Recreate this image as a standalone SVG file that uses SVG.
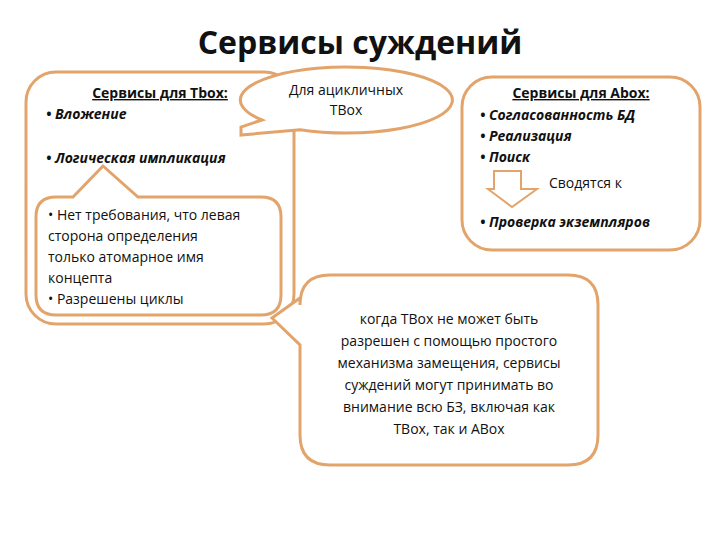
<svg xmlns="http://www.w3.org/2000/svg" width="720" height="540" viewBox="0 0 720 540">
<style>
.b{fill:#fff;stroke:#E2A46A;stroke-width:3}
text{font-family:"Open Sans","Liberation Sans",sans-serif;font-size:14px;fill:#111}
.h{text-decoration:underline;font-weight:bold}
.i{font-style:italic;font-weight:bold}
</style>
<rect width="720" height="540" fill="#fff"/>
<text x="360" y="54" text-anchor="middle" style="font-size:32px;font-weight:bold">Сервисы суждений</text>
<g id="tbox">
<rect class="b" x="26" y="72" width="268" height="252" rx="30"/>
<text x="160" y="98" text-anchor="middle" class="h">Сервисы для Tbox:</text>
<text x="46" y="119" class="i">• Вложение</text>
<text x="46" y="163" class="i">• Логическая импликация</text>
</g>
<g id="acyclic">
<path class="b" d="M300,129.7 A106,33 0 1 0 262,120 L241,127 L241,135 Z"/>
<text x="346" y="95" text-anchor="middle">Для ацикличных</text>
<text x="346" y="115" text-anchor="middle">TBox</text>
</g>
<g id="cycles">
<path class="b" d="M56,197 L73,197 L103,166 L138,197 L261,197 Q281,197 281,217 L281,295 Q281,315 261,315 L56,315 Q36,315 36,295 L36,217 Q36,197 56,197 Z"/>
<text x="48" y="220">• Нет требования, что левая</text>
<text x="48" y="241">сторона определения</text>
<text x="48" y="262">только атомарное имя</text>
<text x="48" y="283">концепта</text>
<text x="48" y="304">• Разрешены циклы</text>
</g>
<g id="abox">
<rect class="b" x="462" y="77" width="238" height="173" rx="30"/>
<text x="581" y="98" text-anchor="middle" class="h">Сервисы для Abox:</text>
<text x="480" y="120" class="i">• Согласованность БД</text>
<text x="480" y="141" class="i">• Реализация</text>
<text x="480" y="162" class="i">• Поиск</text>
<path d="M494,171 L521,171 L521,189 L537,189 L512,207 L488,189 L494,189 Z" fill="#fff" stroke="#E2A46A" stroke-width="2"/>
<text x="549" y="188">Сводятся к</text>
<text x="480" y="227" class="i">• Проверка экземпляров</text>
</g>
<g id="note">
<path class="b" d="M330,275 L568,275 Q598,275 598,305 L598,435 Q598,465 568,465 L330,465 Q300,465 300,435 L300,345 L272,318 L300,298 L300,305 Q300,275 330,275 Z"/>
<text x="449" y="324" text-anchor="middle">когда TBox не может быть</text>
<text x="449" y="346" text-anchor="middle">разрешен с помощью простого</text>
<text x="449" y="368" text-anchor="middle">механизма замещения, сервисы</text>
<text x="449" y="390" text-anchor="middle">суждений могут принимать во</text>
<text x="449" y="412" text-anchor="middle">внимание всю БЗ, включая как</text>
<text x="449" y="434" text-anchor="middle">TBox, так и ABox</text>
</g>
<g id="connectors"/>
</svg>
